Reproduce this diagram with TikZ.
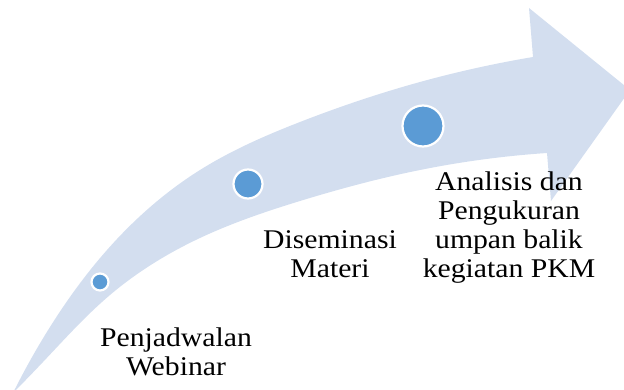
\documentclass[tikz,border=0pt]{standalone}
\usepackage{fontspec}
\usetikzlibrary{hobby}
\setmainfont[FakeStretch=1.1]{Liberation Serif}
\definecolor{arrowfill}{HTML}{D3DEEF}
\definecolor{dotfill}{HTML}{5B9BD5}
\begin{document}
\begin{tikzpicture}[x=1pt,y=-1pt,
  dot/.style={circle,fill=dotfill,draw=white,line width=2.2pt,inner sep=0pt},
  label/.style={align=center,font=\fontsize{27}{28.7}\selectfont,text=black,inner sep=0pt,anchor=base}]
\useasboundingbox (0,0) rectangle (624,390);
\begin{scope}
\clip (0,0) rectangle (624,390);
\fill[arrowfill] (13,393) to[curve through={(50,327) (107,250) (200,170) (300,122) (420,82)}] (533,57)
  -- (529,8) -- (630,90) -- (551,201) -- (547,153)
  to[curve through={(420,170) (300,201) (200,238) (110,295) (43,362)}] (13,393) -- cycle;
\end{scope}
\node[dot,minimum size=17pt] (d1) at (100,282) {};
\node[dot,minimum size=29pt] (d2) at (248,184) {};
\node[dot,minimum size=41pt] (d3) at (423,126) {};
\node[label] (t1) at (176,375) {Penjadwalan\\Webinar};
\node[label] (t2) at (330,277) {Diseminasi\\Materi};
\node[label] (t3) at (509,277) {Analisis dan\\Pengukuran\\umpan balik\\kegiatan PKM};
\end{tikzpicture}
\end{document}
